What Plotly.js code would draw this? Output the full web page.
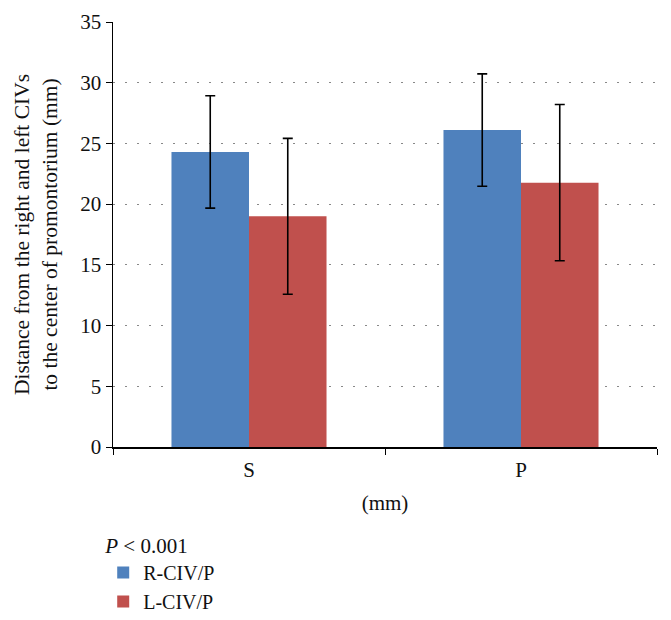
<!DOCTYPE html>
<html>
<head>
<meta charset="utf-8">
<script src="https://cdn.plot.ly/plotly-3.0.1.min.js"></script>
<style>
  html, body { margin: 0; padding: 0; background: #fff; }
  #chart { width: 671px; height: 620px; }
</style>
</head>
<body>
<div id="chart"></div>
<script>
// Categories and series values (mm), with standard deviations
const categories = ['S', 'P'];
const seriesNames = ['R-CIV/P', 'L-CIV/P'];
const rightMeans = [24.3, 26.1];
const rightSD = [4.63, 4.63];
const leftMeans = [19.0, 21.77];
const leftSD = [6.42, 6.43];

const FONT = 'Liberation Serif, Times New Roman, serif';

function barTrace(name, y, sd, color) {
    return {
        type: 'bar',
        name: name,
        x: categories,
        y: y,
        marker: { color: color },
        error_y: { type: 'data', array: sd, visible: true, color: '#000', thickness: 1.6, width: 5 },
        hoverinfo: 'y'
    };
}

const data = [
    barTrace(seriesNames[0], rightMeans, rightSD, '#4F81BD'),
    barTrace(seriesNames[1], leftMeans, leftSD, '#C0504D')
];

const layout = {
    width: 671,
    height: 620,
    margin: { l: 113, r: 14, t: 22, b: 173 },
    paper_bgcolor: '#fff',
    plot_bgcolor: '#fff',
    font: { family: FONT, size: 21, color: '#111' },
    barmode: 'group',
    bargap: 0.43,
    bargroupgap: 0,
    xaxis: {
        type: 'category',
        showline: true,
        linecolor: '#000',
        linewidth: 1.5,
        ticks: 'outside',
        tickson: 'boundaries',
        ticklen: 6,
        tickcolor: '#000',
        showgrid: false,
        zeroline: false,
        ticklabelstandoff: 3,
        tickfont: { family: FONT, size: 21 },
        title: { text: '(mm)', font: { family: FONT, size: 21 }, standoff: 14 }
    },
    yaxis: {
        range: [0, 35],
        dtick: 5,
        showline: true,
        linecolor: '#000',
        linewidth: 1.5,
        ticks: 'outside',
        ticklen: 6,
        tickcolor: '#000',
        showgrid: true,
        gridcolor: '#888',
        gridwidth: 1,
        griddash: '2px,10px',
        zeroline: false,
        tickfont: { family: FONT, size: 21 },
        title: {
            text: 'Distance from the right and left CIVs<br>to the center of promontorium (mm)',
            font: { family: FONT, size: 21.5 },
            standoff: 17
        }
    },
    showlegend: true,
    legend: {
        orientation: 'v',
        xref: 'paper',
        yref: 'container',
        x: -0.018,
        xanchor: 'left',
        y: 0.152,
        yanchor: 'top',
        font: { family: FONT, size: 20 },
        title: { text: '<i>P</i> < 0.001', font: { family: FONT, size: 21 } },
        bgcolor: 'rgba(0,0,0,0)'
    }
};

Plotly.newPlot('chart', data, layout, { displayModeBar: false, staticPlot: true });
</script>
</body>
</html>
